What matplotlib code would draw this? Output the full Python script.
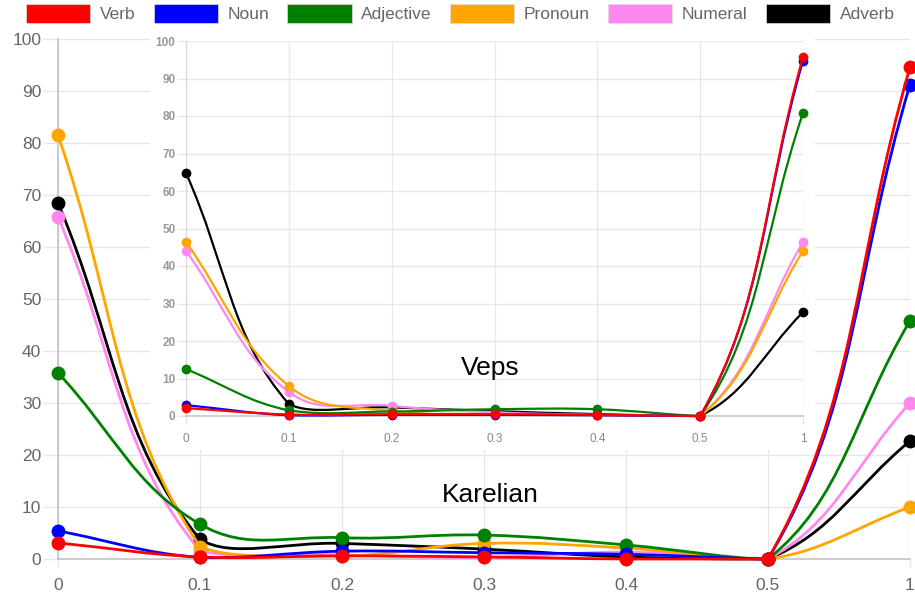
import numpy as np
import matplotlib
matplotlib.use('Agg')
import matplotlib.pyplot as plt
from matplotlib.path import Path
from matplotlib.patches import PathPatch, Patch, Rectangle

plt.rcParams['font.family'] = ['Liberation Sans', 'DejaVu Sans']

# categories on the x axis (evenly spaced, like a category scale)
x_labels = ['0', '0.1', '0.2', '0.3', '0.4', '0.5', '1']

series_names = ['Verb', 'Noun', 'Adjective', 'Pronoun', 'Numeral', 'Adverb']
colors = ['#ff0000', '#0000ff', '#008000', '#ffa500', '#ff88ee', '#000000']

# Karelian (main chart)
karelian_verb = [3.1, 0.4, 0.6, 0.4, 0.0, 0.0, 94.6]
karelian_noun = [5.4, 0.3, 1.5, 1.2, 0.9, 0.0, 91.2]
karelian_adjective = [35.8, 6.7, 4.1, 4.6, 2.7, 0.0, 45.8]
karelian_pronoun = [81.5, 2.4, 0.6, 3.0, 2.1, 0.0, 10.0]
karelian_numeral = [65.8, 1.6, 0.8, 0.3, 1.3, 0.0, 30.0]
karelian_adverb = [68.5, 3.8, 3.0, 1.9, 0.4, 0.0, 22.7]

# Veps (inset chart)
veps_verb = [2.1, 0.4, 0.5, 0.5, 0.3, 0.0, 95.7]
veps_noun = [2.9, 0.2, 0.3, 0.3, 0.2, 0.0, 94.7]
veps_adjective = [12.5, 1.5, 1.2, 1.8, 1.8, 0.0, 80.8]
veps_pronoun = [46.4, 8.0, 1.3, 0.5, 0.2, 0.0, 44.0]
veps_numeral = [44.0, 6.4, 2.7, 1.0, 0.3, 0.0, 46.4]
veps_adverb = [64.8, 3.2, 2.3, 1.3, 0.5, 0.0, 27.7]

karelian = [karelian_verb, karelian_noun, karelian_adjective,
            karelian_pronoun, karelian_numeral, karelian_adverb]
veps = [veps_verb, veps_noun, veps_adjective, veps_pronoun, veps_numeral, veps_adverb]


def spline_patch(ax, xs, ys, tension=0.4, **kw):
    # bezier curve through the points, control points like chart.js (tension 0.4)
    pts = ax.transData.transform(np.column_stack([xs, ys]))
    bb = ax.bbox
    n = len(pts)
    ctrl = []
    for i in range(n):
        prev = pts[i - 1] if i > 0 else pts[i]
        nxt = pts[i + 1] if i < n - 1 else pts[i]
        d01 = np.hypot(*(pts[i] - prev))
        d12 = np.hypot(*(nxt - pts[i]))
        tot = d01 + d12
        s01 = d01 / tot if tot else 0
        s12 = d12 / tot if tot else 0
        cp = pts[i] - tension * s01 * (nxt - prev)
        cn = pts[i] + tension * s12 * (nxt - prev)
        for c in (cp, cn):
            c[0] = min(max(c[0], bb.x0), bb.x1)
            c[1] = min(max(c[1], bb.y0), bb.y1)
        ctrl.append((cp, cn))
    verts = [pts[0]]
    codes = [Path.MOVETO]
    for i in range(n - 1):
        verts += [ctrl[i][1], ctrl[i + 1][0], pts[i + 1]]
        codes += [Path.CURVE4] * 3
    verts = ax.transData.inverted().transform(np.array(verts))
    patch = PathPatch(Path(verts, codes), fill=False, **kw)
    ax.add_patch(patch)
    return patch


W, H = 915, 599
fig = plt.figure(figsize=(W / 100, H / 100), dpi=100)


def px_axes(x0, x1, ytop, ybot, **kw):
    return fig.add_axes([x0 / W, 1 - ybot / H, (x1 - x0) / W, (ybot - ytop) / H], **kw)


xs = np.arange(len(x_labels))

# ---- main chart: Karelian
ax = px_axes(58, 910, 39, 559)
ax.set_xlim(0, len(x_labels) - 1)
ax.set_ylim(0, 100)
ax.set_yticks(range(0, 101, 10))
ax.set_xticks(xs)
ax.set_xticklabels(x_labels)
ax.grid(True, color='#e6e6e6', lw=1)
ax.set_axisbelow(True)
for s in ['top', 'right']:
    ax.spines[s].set_visible(False)
for s in ['left', 'bottom']:
    ax.spines[s].set_color('#c4c4c4')
    ax.spines[s].set_linewidth(1.2)
ax.tick_params(axis='y', length=10.5, width=1, color='#e6e6e6', pad=1.5,
               labelsize=12.5, labelcolor='#666666')
ax.tick_params(axis='x', length=6, width=1, color='#e6e6e6', pad=8,
               labelsize=12.5, labelcolor='#666666')

for i in range(len(series_names)) :
    z = 10 - i
    spline_patch(ax, xs, karelian[i], edgecolor=colors[i], lw=2.0, zorder=z, clip_on=False)
    ax.plot(xs, karelian[i], 'o', ms=9, color=colors[i], zorder=z, clip_on=False)

ax.text(490 / W, 1 - 495 / H, 'Karelian', transform=fig.transFigure, fontsize=19,
        ha='center', va='center', zorder=20)

# white panel behind the inset
fig.add_artist(Rectangle((150 / W, 1 - 450 / H), 665 / W, 420 / H,
                         transform=fig.transFigure, facecolor='white',
                         edgecolor='none', zorder=1))

# ---- inset chart: Veps
ins = px_axes(186, 803, 41, 416)
ins.set_zorder(2)
ins.set_xlim(0, len(x_labels) - 1)
ins.set_ylim(0, 100)
ins.set_yticks(range(0, 101, 10))
ins.set_xticks(xs)
ins.set_xticklabels(x_labels)
ins.grid(True, color='#e8e8e8', lw=1)
ins.set_axisbelow(True)
for s in ['top', 'right']:
    ins.spines[s].set_visible(False)
ins.spines['left'].set_color('#d8d8d8')
ins.spines['bottom'].set_color('#c8c8c8')
ins.spines['bottom'].set_linewidth(1.2)
ins.tick_params(axis='y', length=6.5, width=1, color='#e8e8e8', pad=1,
                labelsize=8.5, labelcolor='#999999')
ins.tick_params(axis='x', length=6, width=1, color='#e8e8e8', pad=6,
                labelsize=8.5, labelcolor='#888888')
for lab in ins.get_yticklabels():
    lab.set_fontweight('bold')

for i in range(len(series_names)):
    z = 10 - i
    spline_patch(ins, xs, veps[i], edgecolor=colors[i], lw=1.6, zorder=z, clip_on=False)
    ins.plot(xs, veps[i], 'o', ms=6, color=colors[i], zorder=z, clip_on=False)

ins.text(490 / W, 1 - 368 / H, 'Veps', transform=fig.transFigure, fontsize=19,
         ha='center', va='center', zorder=20)

# ---- legend
handles = [Patch(facecolor=c, edgecolor='#dddddd', lw=0.5) for c in colors]
fig.legend(handles, series_names, loc='upper center', bbox_to_anchor=(0.503, 1.019),
           ncol=6, frameon=False, fontsize=12.5, labelcolor='#666666',
           handlelength=3.7, handleheight=1.25, handletextpad=0.55,
           columnspacing=1.05)

fig.savefig('out.png', dpi=100)
